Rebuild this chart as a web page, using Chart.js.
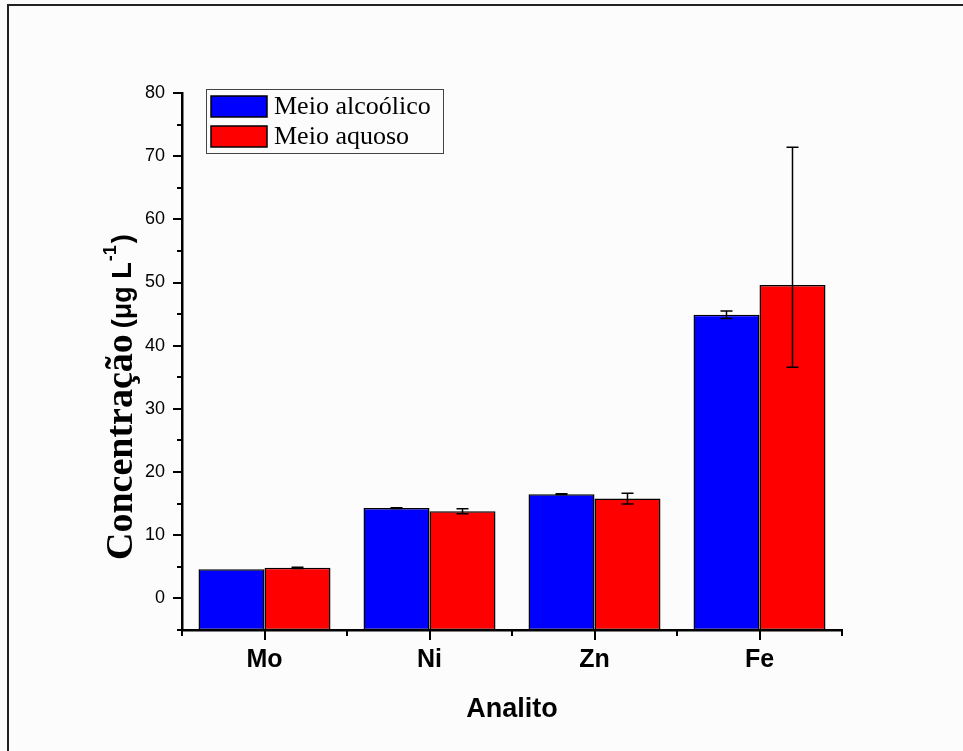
<!DOCTYPE html>
<html>
<head>
<meta charset="utf-8">
<title>Concentração por analito</title>
<script src="https://cdn.jsdelivr.net/npm/chart.js@4.4.1/dist/chart.umd.min.js"></script>
<style>
  body { margin: 0; background: #fcfcfc; }
  canvas { display: block; }
</style>
</head>
<body>
<canvas id="myChart" width="963" height="751"></canvas>
<script>
'use strict';

// data
var categories = ['Mo', 'Ni', 'Zn', 'Fe'];
var alcoolico = [4.6, 14.3, 16.5, 44.9];
var alcoolicoErr = [0, 0.05, 0.05, 0.6];
var aquoso = [4.85, 13.8, 15.8, 49.6];
var aquosoErrUp = [0.1, 0.4, 0.85, 21.8];
var aquosoErrDown = [0.1, 0.4, 0.85, 13.0];
var legendLabels = ['Meio alcoólico', 'Meio aquoso'];
var yMin = -5;
var yMax = 80;

var sans = '"Liberation Sans", Arial, sans-serif';
var serif = '"Liberation Serif", "Times New Roman", serif';

// page frame + background
var framePlugin = {
  id: 'frame',
  beforeDraw: function(chart) {
    var c = chart.ctx;
    c.save();
    c.fillStyle = '#fcfcfc';
    c.fillRect(0, 0, chart.width, chart.height);
    c.strokeStyle = '#222';
    c.lineWidth = 2;
    c.beginPath();
    c.moveTo(8, chart.height + 5);
    c.lineTo(8, 5);
    c.lineTo(chart.width + 5, 5);
    c.stroke();
    c.restore();
  }
};

// error bars
var errPlugin = {
  id: 'errBars',
  afterDatasetsDraw: function(chart) {
    var c = chart.ctx;
    var y = chart.scales.y;
    var errs = [[alcoolicoErr, alcoolicoErr], [aquosoErrUp, aquosoErrDown]];
    c.save();
    c.strokeStyle = '#000';
    c.lineWidth = 1.5;
    chart.data.datasets.forEach(function(ds, i) {
      var meta = chart.getDatasetMeta(i);
      meta.data.forEach(function(bar, j) {
        var up = errs[i][0][j];
        var down = errs[i][1][j];
        if (!up && !down) return;
        var v = ds.data[j];
        var yt = y.getPixelForValue(v + up);
        var yb = y.getPixelForValue(v - down);
        c.beginPath();
        c.moveTo(bar.x, yt);
        c.lineTo(bar.x, yb);
        c.moveTo(bar.x - 6, yt);
        c.lineTo(bar.x + 6, yt);
        c.moveTo(bar.x - 6, yb);
        c.lineTo(bar.x + 6, yb);
        c.stroke();
      });
    });
    c.restore();
  }
};

// outward ticks, major + minor like Origin
var tickPlugin = {
  id: 'ticks',
  afterDraw: function(chart) {
    var c = chart.ctx;
    var a = chart.chartArea;
    var y = chart.scales.y;
    var x = chart.scales.x;
    c.save();
    c.strokeStyle = '#000';
    c.lineWidth = 2;
    c.beginPath();
    for (var v = yMin; v <= yMax; v += 5) {
      var py = Math.round(y.getPixelForValue(v));
      c.moveTo(a.left, py);
      c.lineTo(a.left - (v % 10 === 0 ? 9 : 5), py);
    }
    var step = (a.right - a.left) / categories.length;
    for (var i = 0; i <= categories.length; i++) {
      var px = Math.round(a.left + i * step);
      c.moveTo(px, a.bottom);
      c.lineTo(px, a.bottom + 6);
    }
    for (var k = 0; k < categories.length; k++) {
      var cx = Math.round(x.getPixelForValue(k));
      c.moveTo(cx, a.bottom);
      c.lineTo(cx, a.bottom + 10);
    }
    c.stroke();
    c.restore();
  }
};

// axis titles + legend box
var textPlugin = {
  id: 'texts',
  afterDraw: function(chart) {
    var c = chart.ctx;
    var a = chart.chartArea;
    c.save();
    c.fillStyle = '#000';

    // x title
    c.font = 'bold 27px ' + sans;
    c.textAlign = 'center';
    c.textBaseline = 'middle';
    c.fillText('Analito', (a.left + a.right) / 2, 710);

    // y title, mixed fonts
    c.save();
    c.translate(132, 560);
    c.rotate(-Math.PI / 2);
    c.textAlign = 'left';
    c.textBaseline = 'alphabetic';
    c.font = 'bold 38px ' + serif;
    var p1 = 'Concentração';
    c.fillText(p1, 0, 0);
    var x0 = c.measureText(p1).width + 6;
    c.font = 'bold 27px ' + sans;
    c.fillText('(μg L', x0, -1);
    x0 += c.measureText('(μg L').width + 1;
    c.font = 'bold 18px ' + sans;
    c.fillText('-1', x0, -16);
    x0 += c.measureText('-1').width + 2;
    c.font = 'bold 27px ' + sans;
    c.fillText(')', x0, -1);
    c.restore();

    // legend
    c.strokeStyle = '#444';
    c.lineWidth = 1;
    c.strokeRect(206.5, 89.5, 237, 64);
    c.font = '26px ' + serif;
    c.textAlign = 'left';
    c.textBaseline = 'middle';
    var boxes = [96, 126];
    chart.data.datasets.forEach(function(ds, i) {
      c.fillStyle = ds.backgroundColor;
      c.fillRect(211, boxes[i], 56, 21);
      c.strokeStyle = '#000';
      c.lineWidth = 1.5;
      c.strokeRect(211, boxes[i], 56, 21);
      c.fillStyle = '#000';
      c.fillText(legendLabels[i], 274, boxes[i] + 11);
    });
    c.restore();
  }
};

var ctx = document.getElementById('myChart').getContext('2d');
var chart = new Chart(ctx, {
  type: 'bar',
  data: {
    labels: categories,
    datasets: [{
      label: legendLabels[0],
      data: alcoolico,
      backgroundColor: '#0000ff',
      borderColor: '#000',
      borderWidth: 1.5,
      borderSkipped: false,
      base: yMin
    }, {
      label: legendLabels[1],
      data: aquoso,
      backgroundColor: '#ff0000',
      borderColor: '#000',
      borderWidth: 1.5,
      borderSkipped: false,
      base: yMin
    }]
  },
  options: {
    responsive: false,
    animation: false,
    datasets: {
      bar: { categoryPercentage: 0.8, barPercentage: 1.0 }
    },
    layout: { padding: { top: 93, right: 121, left: 0, bottom: 0 } },
    plugins: {
      legend: { display: false },
      tooltip: { enabled: false }
    },
    scales: {
      x: {
        grid: { display: false, drawTicks: false },
        border: { display: true, color: '#000', width: 2.5 },
        ticks: {
          color: '#000',
          padding: 15,
          font: { family: sans, size: 25, weight: 'bold' }
        },
        afterFit: function(scale) { scale.height = 121; }
      },
      y: {
        min: yMin,
        max: yMax,
        grid: { display: false, drawTicks: false },
        border: { display: true, color: '#000', width: 2.5 },
        ticks: {
          stepSize: 5,
          color: '#000',
          padding: 17,
          font: { family: sans, size: 18 },
          callback: function(v) { return v % 10 === 0 ? v : ''; }
        },
        afterFit: function(scale) { scale.width = 182; }
      }
    }
  },
  plugins: [framePlugin, errPlugin, tickPlugin, textPlugin]
});
</script>
</body>
</html>
